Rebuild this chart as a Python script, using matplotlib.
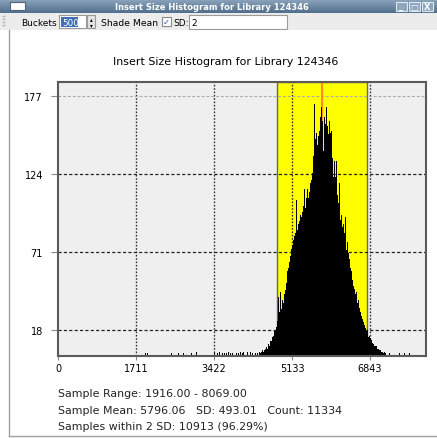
import numpy as np
import matplotlib
matplotlib.use("Agg")
import matplotlib.pyplot as plt
from matplotlib.patches import Rectangle

# --- data ---
n_buckets = 500
x_max = 8069.0
sample_mean = 5796.06
sample_sd = 493.01
sd_mult = 2

# sparse tails (bucket index, count)
tail_idx = [118, 121, 154, 163, 170, 181, 184, 188, 191, 212, 216, 219, 223, 226,
            228, 231, 234, 237, 240, 242, 245, 247, 250, 252, 255, 257, 259, 261,
            464, 471, 477]
tail_counts = [2, 2, 2, 2, 2, 2, 2, 3, 2, 2, 2, 3, 2, 2,
               2, 3, 2, 2, 3, 2, 2, 3, 2, 3, 2, 3, 2, 3,
               2, 2, 2]

# main body, buckets 262 .. 481
body_start = 262
body_counts = [
    1, 0, 2, 1, 0, 1, 2, 1, 2, 2,
    1, 3, 2, 2, 3, 4, 3, 3, 4, 5,
    4, 6, 5, 7, 8, 7, 10, 11, 10, 13,
    14, 13, 17, 18, 20, 22, 24, 40, 27, 30,
    44, 32, 35, 38, 36, 42, 55, 45, 50, 58,
    54, 60, 64, 70, 68, 73, 76, 72, 79, 82,
    84, 88, 106, 86, 90, 108, 92, 96, 95, 99,
    98, 102, 104, 114, 101, 108, 106, 114, 108, 112,
    115, 118, 120, 125, 123, 136, 172, 140, 148, 152,
    144, 158, 150, 153, 163, 167, 170, 160, 140, 150,
    163, 158, 170, 155, 157, 151, 156, 160, 152, 153,
    130, 135, 122, 133, 124, 122, 133, 110, 114, 104,
    118, 98, 93, 96, 88, 86, 90, 84, 95, 80,
    72, 78, 70, 64, 66, 60, 56, 58, 52, 48,
    50, 46, 42, 44, 40, 36, 38, 33, 29, 30,
    27, 25, 26, 23, 21, 22, 19, 17, 18, 15,
    13, 14, 12, 10, 11, 9, 8, 9, 7, 7,
    6, 7, 5, 5, 6, 4, 4, 3, 4, 3,
    2, 3, 2, 2, 1, 2, 1, 1, 2, 1,
    1, 0, 1, 1, 0, 1, 0, 0, 1, 0,
    0, 1, 0, 0, 0, 1, 0, 0, 0, 1,
    0, 0, 0, 0, 1, 0, 0, 0, 0, 1,
]

x_ticks = [0, 1711, 3422, 5133, 6843]
y_ticks = [18, 71, 124, 177]
y_top = 186.7

title = "Insert Size Histogram for Library 124346"
stats_lines = [
    "Sample Range: 1916.00 - 8069.00",
    "Sample Mean: 5796.06   SD: 493.01   Count: 11334",
    "Samples within 2 SD: 10913 (96.29%)",
]

W, H = 437, 439
fig = plt.figure(figsize=(W / 100, H / 100), dpi=100)
fig.patch.set_facecolor("white")

# --- window chrome drawn in pixel coords ---
chrome = fig.add_axes([0, 0, 1, 1])
chrome.set_xlim(0, W)
chrome.set_ylim(H, 0)
chrome.axis("off")

grad = np.linspace(0, 1, 14).reshape(-1, 1)
tb_cmap = matplotlib.colors.LinearSegmentedColormap.from_list("tb", ["#8da5bd", "#52708e"])
chrome.imshow(grad, extent=[0, W, 14, 0], cmap=tb_cmap, aspect="auto", zorder=1)
chrome.add_patch(Rectangle((10, 3), 15, 8, facecolor="white", edgecolor="#50657a", lw=0.8, zorder=2))
chrome.text(212, 7.5, title, color="white", fontsize=6, fontweight="bold",
            ha="center", va="center", zorder=3)
for bx, glyph in zip([396, 409, 422], ["_", "□", "X"]):
    chrome.add_patch(Rectangle((bx, 2.5), 11, 9.5, facecolor="#8fa6be", edgecolor="#dfe7ef", lw=0.8, zorder=2))
    chrome.text(bx + 5.5, 7.5, glyph, color="white", fontsize=6, fontweight="bold",
                ha="center", va="center", zorder=3)

# toolbar
chrome.add_patch(Rectangle((0, 14), W, 17, facecolor="#ececec", edgecolor="none", zorder=1))
for gy in [17, 20, 23, 26]:
    chrome.plot([3, 5], [gy + 1, gy], color="#b0b0b0", lw=0.8, zorder=2)
chrome.text(21, 23, "Buckets", fontsize=6.5, ha="left", va="center", zorder=3)
chrome.add_patch(Rectangle((59, 16), 27, 13, facecolor="white", edgecolor="#9a9a9a", lw=0.8, zorder=2))
chrome.add_patch(Rectangle((61, 17.5), 17, 10, facecolor="#3d6fb6", edgecolor="none", zorder=2))
chrome.text(62, 23, "500", color="white", fontsize=6.3, ha="left", va="center", zorder=3)
chrome.add_patch(Rectangle((87, 16), 8, 13, facecolor="#e4e4e4", edgecolor="#9a9a9a", lw=0.8, zorder=2))
chrome.text(91, 19.5, "▴", fontsize=4, ha="center", va="center", zorder=3)
chrome.text(91, 26, "▾", fontsize=4, ha="center", va="center", zorder=3)
chrome.text(101, 23, "Shade Mean", fontsize=6.7, ha="left", va="center", zorder=3)
chrome.add_patch(Rectangle((162, 18), 9, 9, facecolor="white", edgecolor="#8a8a8a", lw=0.8, zorder=2))
chrome.text(166.5, 22.5, "✓", color="#2a5db0", fontsize=6, ha="center", va="center", zorder=3)
chrome.text(173, 23, "SD:", fontsize=6.5, ha="left", va="center", zorder=3)
chrome.add_patch(Rectangle((189, 15.5), 98, 14, facecolor="white", edgecolor="#9a9a9a", lw=0.8, zorder=2))
chrome.text(191, 23, "2", fontsize=6.5, ha="left", va="center", zorder=3)

# window frame
chrome.plot([8.5, 8.5], [31, 437], color="#a0a0a0", lw=1)
chrome.plot([8.5, W], [437, 437], color="#a0a0a0", lw=1)

# plot title and stats text
chrome.text(226, 62, title, fontsize=7.9, ha="center", va="center")
for i, line in enumerate(stats_lines):
    chrome.text(58, 394 + i * 16.7, line, fontsize=7.9, ha="left", va="center", color="#222222")

# --- histogram axes ---
ax = fig.add_axes([58.3 / W, 1 - 357.1 / H, (425.7 - 58.3) / W, (357.1 - 83) / H])
ax.set_facecolor("#efefef")

counts = np.zeros(n_buckets)
counts[body_start:body_start + len(body_counts)] = body_counts
counts[tail_idx] = tail_counts
edges = np.linspace(0, x_max, n_buckets + 1)

lo = sample_mean - sd_mult * sample_sd
hi = sample_mean + sd_mult * sample_sd
ax.axvspan(lo, hi, facecolor="#ffff00", edgecolor="#666666", lw=1, zorder=0.5)

for xt in x_ticks[1:]:
    ax.axvline(xt, color="#333333", lw=1, ls=(0, (1.2, 1.2)), zorder=1)
for yt in y_ticks[:-1]:
    ax.axhline(yt, color="#222222", lw=0.9, ls=(0, (2.5, 1.8)), zorder=1)
ax.axhline(y_ticks[-1], color="#aaaaaa", lw=0.8, ls=(0, (2.5, 1.8)), zorder=1)

ax.axvline(sample_mean, color="#ff8c1a", lw=1.5, zorder=1.5)

ax.stairs(counts, edges, fill=True, color="black", linewidth=0, zorder=2)

ax.set_xlim(0, x_max)
ax.set_ylim(0, y_top)
ax.set_xticks(x_ticks)
ax.set_yticks(y_ticks)
ax.tick_params(axis="both", labelsize=7, color="#888888", width=0.8)
ax.tick_params(axis="x", length=3, pad=2)
ax.tick_params(axis="y", length=5, pad=6)
for s in ax.spines.values():
    s.set_color("#5a5a5a")
    s.set_linewidth(1.5)

fig.savefig("out.png", dpi=100)
